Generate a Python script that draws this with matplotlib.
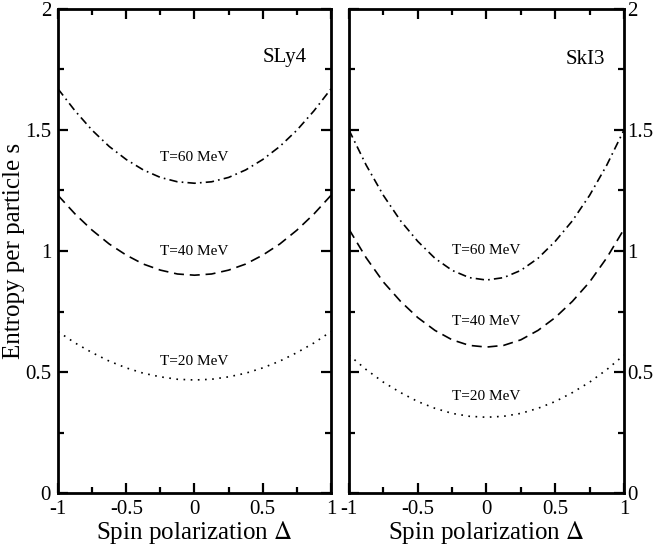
import numpy as np
import matplotlib
matplotlib.use('Agg')
import matplotlib.pyplot as plt
from matplotlib.ticker import MultipleLocator

# spin polarization grid
delta = [-1.0, -0.875, -0.75, -0.625, -0.5, -0.375, -0.25, -0.125, 0.0,
         0.125, 0.25, 0.375, 0.5, 0.625, 0.75, 0.875, 1.0]

# SLy4
sly4_t60 = [1.670, 1.579, 1.499, 1.432, 1.378, 1.335, 1.304, 1.286, 1.280,
            1.286, 1.304, 1.335, 1.378, 1.432, 1.499, 1.579, 1.670]
sly4_t40 = [1.230, 1.153, 1.086, 1.029, 0.983, 0.946, 0.921, 0.905, 0.900,
            0.905, 0.921, 0.946, 0.983, 1.029, 1.086, 1.153, 1.230]
sly4_t20 = [0.667, 0.620, 0.580, 0.545, 0.517, 0.495, 0.480, 0.470, 0.467,
            0.470, 0.480, 0.495, 0.517, 0.545, 0.580, 0.620, 0.667]

# SkI3
ski3_t60 = [1.500, 1.355, 1.230, 1.125, 1.040, 0.970, 0.920, 0.890, 0.880,
            0.890, 0.920, 0.970, 1.040, 1.125, 1.230, 1.355, 1.500]
ski3_t40 = [1.090, 0.972, 0.872, 0.792, 0.725, 0.672, 0.633, 0.610, 0.603,
            0.610, 0.633, 0.672, 0.725, 0.792, 0.872, 0.972, 1.090]
ski3_t20 = [0.570, 0.510, 0.458, 0.415, 0.378, 0.350, 0.329, 0.317, 0.313,
            0.317, 0.329, 0.350, 0.378, 0.415, 0.458, 0.510, 0.570]

curve_labels = ['T=60 MeV', 'T=40 MeV', 'T=20 MeV']
sly4_label_y = [1.385, 0.997, 0.543]
ski3_label_y = [1.000, 0.708, 0.398]

plt.rcParams['font.family'] = ['Liberation Serif', 'DejaVu Serif']
plt.rcParams['mathtext.fontset'] = 'stix'

fig = plt.figure(figsize=(6.54, 5.45), dpi=100)
ax1 = fig.add_axes([0.0887, 0.0954, 0.4174, 0.8881])
ax2 = fig.add_axes([0.5336, 0.0954, 0.4205, 0.8881])

styles = [(0, (5, 2.5, 1, 2.5)), (0, (6, 3.5)), (0, (1, 3.3))]


def setup(ax, side):
    ax.set_xlim(-1, 1)
    ax.set_ylim(0, 2)
    ax.xaxis.set_major_locator(MultipleLocator(0.5))
    ax.xaxis.set_minor_locator(MultipleLocator(0.25))
    ax.yaxis.set_major_locator(MultipleLocator(0.5))
    ax.yaxis.set_minor_locator(MultipleLocator(0.25))
    ax.tick_params(which='both', direction='in', top=True, right=True,
                   width=1.6, labelsize=15)
    ax.tick_params(which='major', length=7)
    ax.tick_params(which='minor', length=4)
    if side == 'right':
        ax.tick_params(axis='y', labelleft=False, labelright=True, pad=2)
    else:
        ax.tick_params(axis='y', pad=5)
    ax.tick_params(axis='x', pad=5)
    for s in ax.spines.values():
        s.set_linewidth(2.0)
    ax.set_xticks([-1, -0.5, 0, 0.5, 1])
    ax.set_xticklabels(['-1', '-0.5', '0', '0.5', '1'])
    ax.set_yticks([0, 0.5, 1, 1.5, 2])
    ax.set_yticklabels(['0', '0.5', '1', '1.5', '2'])
    ax.set_xlabel('Spin polarization $\\Delta$', fontsize=18, labelpad=0)


setup(ax1, 'left')
setup(ax2, 'right')

for ys, ls in zip([sly4_t60, sly4_t40, sly4_t20], styles):
    ax1.plot(delta, ys, color='black', lw=1.2, linestyle=ls)
for ys, ls in zip([ski3_t60, ski3_t40, ski3_t20], styles):
    ax2.plot(delta, ys, color='black', lw=1.2, linestyle=ls)

for lab, y in zip(curve_labels, sly4_label_y):
    ax1.text(0.0, y, lab, ha='center', va='center', fontsize=11)
for lab, y in zip(curve_labels, ski3_label_y):
    ax2.text(0.0, y, lab, ha='center', va='center', fontsize=11)

ax1.text(0.66, 1.80, 'SLy4', ha='center', va='center', fontsize=15)
ax2.text(0.72, 1.79, 'SkI3', ha='center', va='center', fontsize=15)

ax1.set_ylabel('Entropy per particle s', fontsize=18, labelpad=0)

fig.savefig('out.png', dpi=100)
